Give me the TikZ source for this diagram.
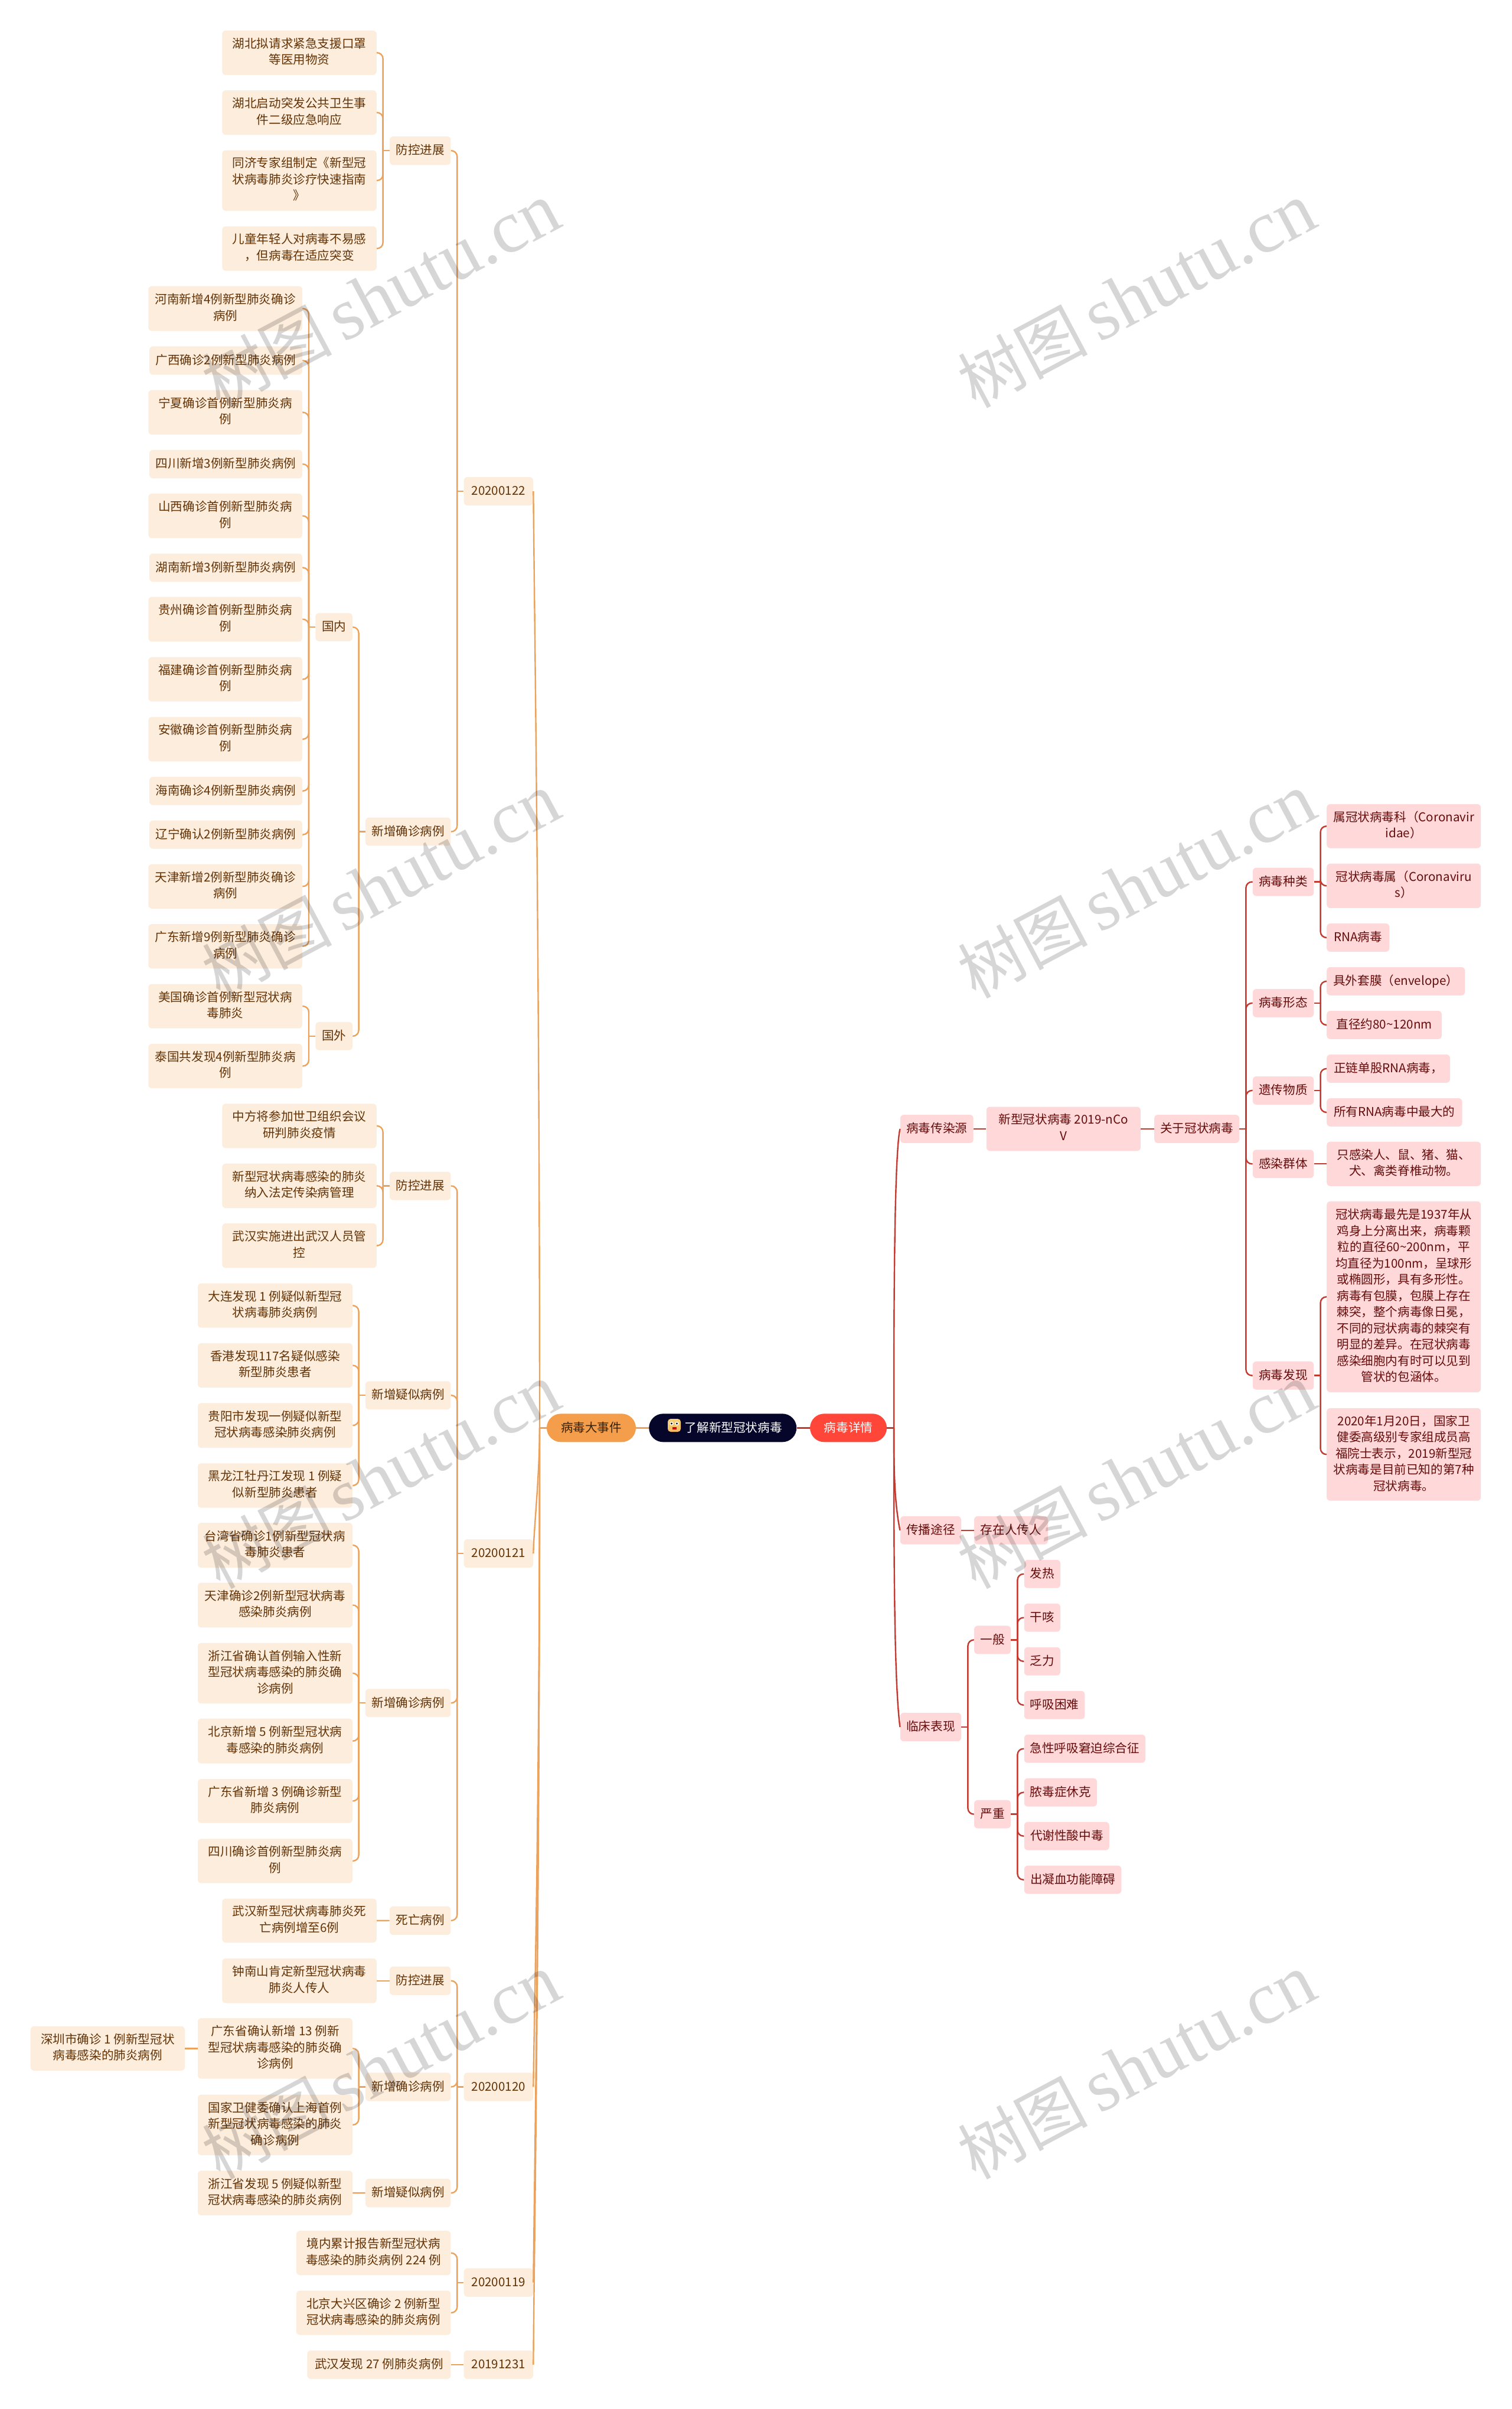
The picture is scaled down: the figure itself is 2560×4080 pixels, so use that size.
\documentclass[tikz,border=0pt]{standalone}
\usepackage{fontspec}
\setmainfont{Noto Sans CJK SC}
\newfontfamily\wmlatin{Liberation Serif}
\newfontfamily\wmcjk{Noto Sans CJK SC}
\definecolor{oline}{HTML}{EBA25D}
\definecolor{ofill}{HTML}{FCEDDD}
\definecolor{otext}{HTML}{633306}
\definecolor{rline}{HTML}{C23A30}
\definecolor{rfill}{HTML}{FFD9D9}
\definecolor{rtext}{HTML}{650C0C}
\definecolor{evfill}{HTML}{F49D4B}
\definecolor{evtext}{HTML}{3A2206}
\definecolor{detfill}{HTML}{FF4638}
\definecolor{rootfill}{HTML}{06062B}
\definecolor{emoY}{HTML}{F7D27A}
\definecolor{emoB}{HTML}{F4B860}
\newcommand\mystrut{\rule[-3pt]{0pt}{12.8pt}}
\tikzset{
  base/.style={rounded corners=3pt,inner sep=0pt,align=center,
    font=\fontsize{10.3}{13.75}\selectfont,
    execute at begin node={\mystrut},execute at end node={\mystrut}},
  onode/.style={base,fill=ofill,text=otext},
  rnode/.style={base,fill=rfill,text=rtext},
  ocon/.style={draw=oline,line width=1.2pt},
  rcon/.style={draw=rline,line width=1.2pt},
  rootnode/.style={base,rounded corners=12pt,fill=rootfill,text=white},
  evnode/.style={base,rounded corners=12pt,fill=evfill,text=evtext},
  detnode/.style={base,rounded corners=12pt,fill=detfill,text=white},
  wmark/.style={rotate=28,text=black,text opacity=0.16,inner sep=0pt}
}
\newcommand\N[7]{\node[#2,minimum width={(#5-#3)*0.5},minimum height={(#6-#4)*0.5}] (#1) at ({(#3+#5)/2},{(#4+#6)/2}) {#7};}
\newcommand\kidsL[2]{%
  \path (#1.west) ++(-11,0) coordinate (j);
  \draw[ocon] (#1.west) -- (j);
  \foreach \c in {#2} {\draw[ocon,rounded corners=5pt] (j) |- (\c.east);}
}
\newcommand\kidsR[2]{%
  \path (#1.east) ++(11,0) coordinate (j);
  \draw[rcon] (#1.east) -- (j);
  \foreach \c in {#2} {\draw[rcon,rounded corners=5pt] (j) |- (\c.west);}
}
\newcommand\mainO[3]{\draw[ocon] (jo) .. controls (914,#2) and (904,#3) .. (#1.east);}
\newcommand\mainR[3]{\draw[rcon] (jr) .. controls (1513.7,#2) and (1516,#3) .. (#1.west);}
\begin{document}
\begin{tikzpicture}[x=0.5pt,y=-0.5pt]
\useasboundingbox[fill=white] (0,0) rectangle (2560,4080);

% centre
\N{root}{rootnode}{1099.2}{2394.3}{1349.2}{2442.3}{\hspace*{18pt}了解新型冠状病毒}
\N{ev}{evnode}{926}{2394.3}{1077}{2442.3}{病毒大事件}
\N{det}{detnode}{1372}{2394.3}{1502}{2442.3}{病毒详情}
\draw[ocon] (ev.east) -- (root.west);
\draw[rcon] (root.east) -- (det.west);
\path (ev.west) ++(-11.6,0) coordinate (jo);
\path (det.east) ++(11.7,0) coordinate (jr);
\draw[ocon] (ev.west) -- (jo);
\draw[rcon] (det.east) -- (jr);
% emoji
\shade[top color=emoY,bottom color=emoB,rounded corners=2.5pt] (1131,2403) rectangle (1153,2425);
\fill[white] (1137.5,2411) circle (3.2);
\fill[white] (1146.5,2411) circle (3.2);
\fill[black] (1137.5,2411) circle (1.7);
\fill[black] (1146.5,2411) circle (1.7);
\fill[red!85!black] (1138.5,2416.5) rectangle (1145.5,2420.5);

% ---- orange: 20200122
\N{da}{onode}{785.7}{808}{903}{856}{20200122}
\N{fa}{onode}{660}{231}{763.4}{279.3}{防控进展}
\N{a1}{onode}{376.3}{51.7}{637.8}{126.9}{湖北拟请求紧急支援口罩\\等医用物资}
\N{a2}{onode}{376.3}{153}{637.8}{228.3}{湖北启动突发公共卫生事\\件二级应急响应}
\N{a3}{onode}{376.3}{254.5}{637.8}{357}{同济专家组制定《新型冠\\状病毒肺炎诊疗快速指南\\》}
\N{a4}{onode}{376.3}{383.3}{637.8}{458.5}{儿童年轻人对病毒不易感\\，但病毒在适应突变}
\N{xa}{onode}{619}{1384.6}{763.4}{1432.4}{新增确诊病例}
\N{gn}{onode}{534.4}{1038.3}{597}{1086}{国内}
\N{gw}{onode}{534.4}{1730.9}{597}{1778.7}{国外}
\N{b1}{onode}{251.3}{484.7}{512}{560.6}{河南新增4例新型肺炎确诊\\病例}
\N{b2}{onode}{253}{586.7}{512}{634.6}{广西确诊2例新型肺炎病例}
\N{b3}{onode}{251.3}{660.7}{512}{736}{宁夏确诊首例新型肺炎病\\例}
\N{b4}{onode}{253}{762}{512}{810}{四川新增3例新型肺炎病例}
\N{b5}{onode}{251.3}{836}{512}{911.4}{山西确诊首例新型肺炎病\\例}
\N{b6}{onode}{253}{937.5}{512}{985.3}{湖南新增3例新型肺炎病例}
\N{b7}{onode}{251.3}{1010.8}{512}{1086.7}{贵州确诊首例新型肺炎病\\例}
\N{b8}{onode}{251.3}{1112.9}{512}{1188}{福建确诊首例新型肺炎病\\例}
\N{b9}{onode}{251.3}{1214.3}{512}{1289.5}{安徽确诊首例新型肺炎病\\例}
\N{b10}{onode}{253}{1315.7}{512}{1363.5}{海南确诊4例新型肺炎病例}
\N{b11}{onode}{253}{1389.7}{512}{1437.5}{辽宁确认2例新型肺炎病例}
\N{b12}{onode}{251.3}{1463.6}{512}{1538.9}{天津新增2例新型肺炎确诊\\病例}
\N{b13}{onode}{251.3}{1565}{512}{1640.3}{广东新增9例新型肺炎确诊\\病例}
\N{b14}{onode}{251.3}{1666.5}{512}{1741.7}{美国确诊首例新型冠状病\\毒肺炎}
\N{b15}{onode}{251.3}{1767.9}{512}{1843.1}{泰国共发现4例新型肺炎病\\例}
\kidsL{fa}{a1,a2,a3,a4}
\kidsL{gn}{b1,b2,b3,b4,b5,b6,b7,b8,b9,b10,b11,b12,b13}
\kidsL{gw}{b14,b15}
\kidsL{xa}{gn,gw}
\kidsL{da}{fa,xa}

% ---- orange: 20200121
\N{db}{onode}{785.7}{2607}{903}{2655}{20200121}
\N{fb}{onode}{660}{1984.5}{763.4}{2032.5}{防控进展}
\N{c1}{onode}{376.3}{1869.3}{637.8}{1944.5}{中方将参加世卫组织会议\\研判肺炎疫情}
\N{c2}{onode}{376.3}{1970.7}{637.8}{2046}{新型冠状病毒感染的肺炎\\纳入法定传染病管理}
\N{c3}{onode}{376.3}{2072}{637.8}{2147.3}{武汉实施进出武汉人员管\\控}
\N{yb}{onode}{619}{2339.3}{763.4}{2387}{新增疑似病例}
\N{d1}{onode}{335}{2173.5}{597}{2248.7}{大连发现 1 例疑似新型冠\\状病毒肺炎病例}
\N{d2}{onode}{335}{2274.9}{597}{2350}{香港发现117名疑似感染\\新型肺炎患者}
\N{d3}{onode}{335}{2376.3}{597}{2452}{贵阳市发现一例疑似新型\\冠状病毒感染肺炎病例}
\N{d4}{onode}{335}{2478.3}{597}{2553.6}{黑龙江牡丹江发现 1 例疑\\似新型肺炎患者}
\N{xb}{onode}{619}{2860.3}{763.4}{2908.2}{新增确诊病例}
\N{e1}{onode}{335}{2579}{597}{2655}{台湾省确诊1例新型冠状病\\毒肺炎患者}
\N{e2}{onode}{335}{2680.5}{597}{2756.4}{天津确诊2例新型冠状病毒\\感染肺炎病例}
\N{e3}{onode}{335}{2782.5}{597}{2885.2}{浙江省确认首例输入性新\\型冠状病毒感染的肺炎确\\诊病例}
\N{e4}{onode}{335}{2910.7}{597}{2986.6}{北京新增 5 例新型冠状病\\毒感染的肺炎病例}
\N{e5}{onode}{335}{3013}{597}{3087.5}{广东省新增 3 例确诊新型\\肺炎病例}
\N{e6}{onode}{335}{3114.3}{597}{3189.4}{四川确诊首例新型肺炎病\\例}
\N{sw}{onode}{660}{3228.6}{763.4}{3276.9}{死亡病例}
\N{f1}{onode}{376.3}{3215.6}{637.8}{3290}{武汉新型冠状病毒肺炎死\\亡病例增至6例}
\kidsL{fb}{c1,c2,c3}
\kidsL{yb}{d1,d2,d3,d4}
\kidsL{xb}{e1,e2,e3,e4,e5,e6}
\draw[ocon] (sw.west) -- (f1.east);
\kidsL{db}{fb,yb,xb,sw}

% ---- orange: 20200120
\N{dc}{onode}{785.7}{3510.3}{903}{3558.5}{20200120}
\N{fc}{onode}{660}{3330.6}{763.4}{3378.8}{防控进展}
\N{g1}{onode}{376.3}{3316.8}{637.8}{3392.6}{钟南山肯定新型冠状病毒\\肺炎人传人}
\N{xc}{onode}{619}{3510.3}{763.4}{3558.5}{新增确诊病例}
\N{h1}{onode}{335}{3418}{597}{3520.7}{广东省确认新增 13 例新\\型冠状病毒感染的肺炎确\\诊病例}
\N{h2}{onode}{335}{3547.5}{597}{3650}{国家卫健委确认上海首例\\新型冠状病毒感染的肺炎\\确诊病例}
\N{h3}{onode}{51.7}{3431.8}{313}{3506.9}{深圳市确诊 1 例新型冠状\\病毒感染的肺炎病例}
\N{yc}{onode}{619}{3690}{763.4}{3738.3}{新增疑似病例}
\N{i1}{onode}{335}{3676.3}{597}{3751.9}{浙江省发现 5 例疑似新型\\冠状病毒感染的肺炎病例}
\draw[ocon] (fc.west) -- (g1.east);
\draw[ocon] (h1.west) -- (h3.east);
\draw[ocon] (yc.west) -- (i1.east);
\kidsL{xc}{h1,h2}
\kidsL{dc}{fc,xc,yc}

% ---- orange: 20200119, 20191231
\N{dd}{onode}{785.7}{3841.6}{903}{3889.8}{20200119}
\N{j1}{onode}{502}{3778.2}{763.4}{3853.3}{境内累计报告新型冠状病\\毒感染的肺炎病例 224 例}
\N{j2}{onode}{502}{3879.5}{763.4}{3954.5}{北京大兴区确诊 2 例新型\\冠状病毒感染的肺炎病例}
\kidsL{dd}{j1,j2}
\N{de}{onode}{785.7}{3980.7}{903}{4029}{20191231}
\N{k1}{onode}{520.4}{3980.7}{763.4}{4029}{武汉发现 27 例肺炎病例}
\draw[ocon] (de.west) -- (k1.east);

% ---- main orange curves
\mainO{da}{1600}{960}
\mainO{db}{2500}{2590}
\mainO{dc}{3100}{3440}
\mainO{dd}{3200}{3760}
\mainO{de}{3300}{3850}

% ---- red side
\N{src}{rnode}{1524.8}{1888}{1648.7}{1935.8}{病毒传染源}
\N{nc}{rnode}{1670.8}{1874.5}{1931.8}{1949.3}{新型冠状病毒 2019-nCo\\V}
\N{ab}{rnode}{1955.2}{1888}{2099}{1935.8}{关于冠状病毒}
\draw[rcon] (src.east) -- (nc.west);
\draw[rcon] (nc.east) -- (ab.west);
\N{zl}{rnode}{2121.9}{1469.6}{2225.2}{1517.5}{病毒种类}
\N{xt}{rnode}{2121.9}{1675}{2225.2}{1722.8}{病毒形态}
\N{yc2}{rnode}{2121.9}{1823}{2225.2}{1870.8}{遗传物质}
\N{qt}{rnode}{2121.9}{1947.3}{2225.2}{1995.2}{感染群体}
\N{fx}{rnode}{2121.9}{2305.7}{2225.2}{2353.6}{病毒发现}
\kidsR{ab}{zl,xt,yc2,qt,fx}
\N{l1}{rnode}{2247.2}{1361.9}{2508.2}{1436.5}{属冠状病毒科（Coronavir\\idae）}
\N{l2}{rnode}{2247.2}{1462.6}{2508.2}{1537.9}{冠状病毒属（Coronaviru\\s）}
\N{l3}{rnode}{2247.2}{1564}{2353.3}{1611.9}{RNA病毒}
\kidsR{zl}{l1,l2,l3}
\N{m1}{rnode}{2247.2}{1638}{2481.4}{1685.8}{具外套膜（envelope）}
\N{m2}{rnode}{2247.2}{1712}{2442}{1759.8}{直径约80{\char"7E}120nm}
\kidsR{xt}{m1,m2}
\N{n1}{rnode}{2247.2}{1786}{2456}{1833.8}{正链单股RNA病毒，}
\N{n2}{rnode}{2247.2}{1860}{2476.6}{1907.8}{所有RNA病毒中最大的}
\kidsR{yc2}{n1,n2}
\N{o1}{rnode}{2247.2}{1933.7}{2508.2}{2008.8}{只感染人、鼠、猪、猫、\\犬、禽类脊椎动物。}
\draw[rcon] (qt.east) -- (o1.west);
\N{p1}{rnode}{2247.2}{2034.7}{2508.2}{2358}{冠状病毒最先是1937年从\\鸡身上分离出来，病毒颗\\粒的直径60{\char"7E}200nm，平\\均直径为100nm，呈球形\\或椭圆形，具有多形性。\\病毒有包膜，包膜上存在\\棘突，整个病毒像日冕，\\不同的冠状病毒的棘突有\\明显的差异。在冠状病毒\\感染细胞内有时可以见到\\管状的包涵体。}
\N{p2}{rnode}{2247.2}{2384.8}{2508.2}{2541.7}{2020年1月20日，国家卫\\健委高级别专家组成员高\\福院士表示，2019新型冠\\状病毒是目前已知的第7种\\冠状病毒。}
\kidsR{fx}{p1,p2}
\N{cb}{rnode}{1524.8}{2567.9}{1628}{2615.7}{传播途径}
\N{cz}{rnode}{1650}{2567.9}{1774.8}{2615.7}{存在人传人}
\draw[rcon] (cb.east) -- (cz.west);
\N{lc}{rnode}{1524.8}{2900.8}{1628}{2949.2}{临床表现}
\N{yb2}{rnode}{1650}{2753.4}{1712}{2801.3}{一般}
\N{yz}{rnode}{1650}{3048.7}{1712}{3096.5}{严重}
\kidsR{lc}{yb2,yz}
\N{q1}{rnode}{1734.8}{2641.8}{1796}{2689.7}{发热}
\N{q2}{rnode}{1734.8}{2715.8}{1796}{2763.6}{干咳}
\N{q3}{rnode}{1734.8}{2789.8}{1796}{2837.6}{乏力}
\N{q4}{rnode}{1734.8}{2863.8}{1837.4}{2911.6}{呼吸困难}
\kidsR{yb2}{q1,q2,q3,q4}
\N{r1}{rnode}{1734.8}{2937.8}{1940}{2985.6}{急性呼吸窘迫综合征}
\N{r2}{rnode}{1734.8}{3011.7}{1858}{3059.6}{脓毒症休克}
\N{r3}{rnode}{1734.8}{3085.7}{1878.8}{3133.5}{代谢性酸中毒}
\N{r4}{rnode}{1734.8}{3159.7}{1899.4}{3207.5}{出凝血功能障碍}
\kidsR{yz}{r1,r2,r3,r4}

% ---- main red curves
\mainR{src}{2150}{1950}
\mainR{cb}{2500}{2550}
\mainR{lc}{2700}{2860}

% watermarks on top
\foreach \i/\x/\y in {1/645/500,2/645/1500,3/645/2500,4/645/3500,5/1925/500,6/1925/1500,7/1925/2500,8/1925/3500}
  \node[wmark] (wm\i) at (\x,\y) {\fontsize{55}{60}\selectfont\wmcjk 树图\hspace{9pt}\fontsize{63}{60}\selectfont\wmlatin shutu.cn};
\end{tikzpicture}
\end{document}
